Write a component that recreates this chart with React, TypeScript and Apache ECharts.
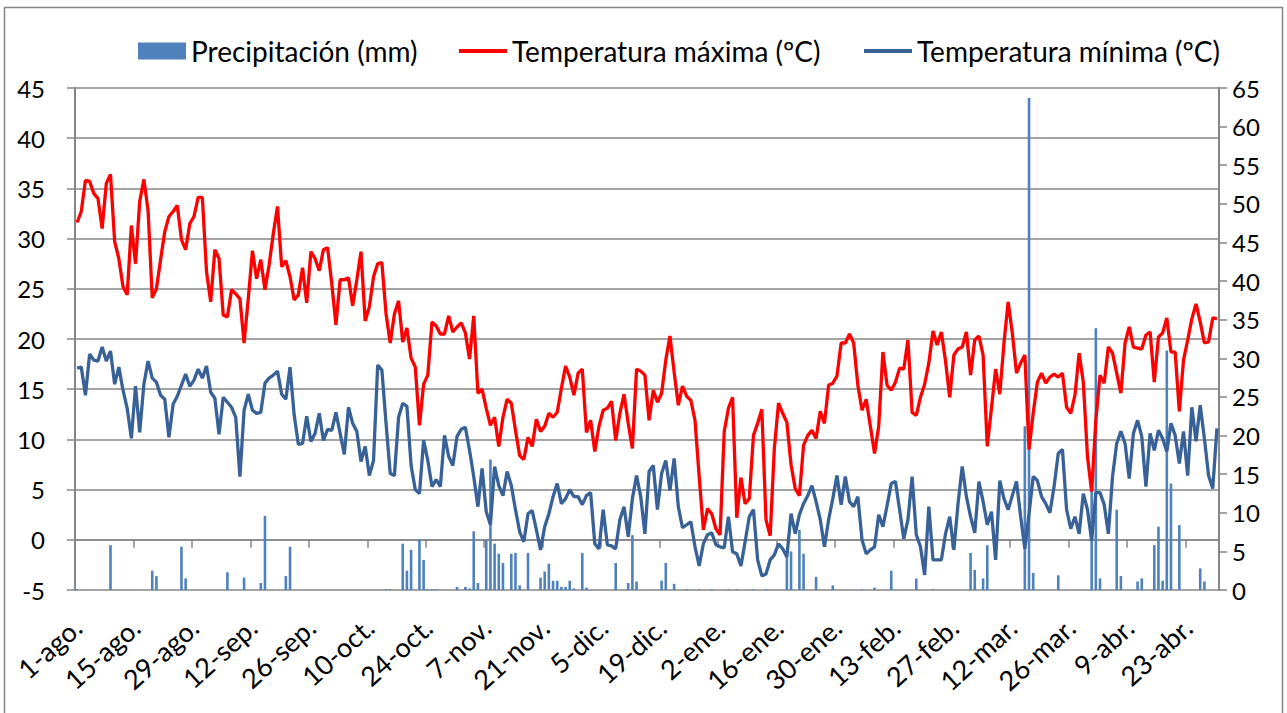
import React, { useEffect, useRef } from 'react';
import * as echarts from 'echarts';

// ---- categories (1-ago. .. 30-abr., leap year) ----
const monthNames = ['ago', 'sep', 'oct', 'nov', 'dic', 'ene', 'feb', 'mar', 'abr'];
const monthDays = [31, 30, 31, 30, 31, 31, 29, 31, 30];
const categories: string[] = [];
monthNames.forEach((m, mi) => {
  for (let d = 1; d <= monthDays[mi]; d++) categories.push(`${d}-${m}.`);
});

// ---- series ----
const precipitation = [
  0.1, 0, 0, 0, 0, 0, 0, 0, 5.8, 0,
  0, 0, 0, 0, 0, 0, 0, 0, 2.5, 1.8,
  0, 0, 0, 0, 0, 5.6, 1.5, 0, 0, 0,
  0, 0, 0, 0, 0, 0, 2.3, 0, 0, 0,
  1.6, 0, 0, 0, 0.9, 9.6, 0, 0, 0, 0,
  1.8, 5.6, 0, 0, 0, 0, 0, 0, 0, 0,
  0, 0, 0, 0, 0, 0, 0, 0, 0, 0,
  0, 0, 0, 0, 0.1, 0.1, 0, 0, 6.0, 2.5,
  5.2, 0, 6.5, 3.9, 0.1, 0.1, 0.1, 0, 0, 0,
  0, 0.4, 0, 0.4, 0.2, 7.6, 0.9, 0, 6.5, 16.9,
  6.0, 4.7, 3.5, 0, 4.7, 4.8, 0.6, 0, 4.8, 0,
  0, 1.6, 2.4, 3.4, 1.2, 1.2, 0.4, 0.4, 1.2, 0.2,
  0, 4.8, 0.3, 0, 0, 0, 0, 0, 0, 3.5,
  0, 0, 0.9, 7.1, 1.1, 0, 0, 0, 0, 0,
  1.2, 3.5, 0, 0.8, 0, 0, 0.1, 0, 0, 0.1,
  0, 0, 0.1, 0, 0, 0, 0.1, 0, 0.1, 0,
  0, 0, 0.1, 0, 0, 0.1, 0, 0, 0, 0,
  4.3, 5.0, 0, 7.8, 4.7, 0, 0, 1.7, 0, 0,
  0, 0.6, 0, 0, 0, 0, 0, 0, 0.1, 0,
  0, 0.3, 0, 0, 0, 2.5, 0, 0, 0, 0,
  0, 1.5, 0, 0, 0, 0.1, 0, 0, 0, 0,
  0, 0, 0, 0, 4.8, 2.6, 0, 1.5, 5.8, 0,
  0, 0, 0, 0, 0, 0, 0, 21.2, 63.7, 2.2,
  0, 0, 0, 0, 0, 1.9, 0, 0, 0, 0,
  0, 0, 0, 13.0, 33.9, 1.5, 0, 0, 0, 10.4,
  1.8, 0, 0, 0, 1.1, 1.5, 0, 0, 5.8, 8.2,
  1.2, 31.0, 13.8, 0, 8.4, 0, 0, 0, 0, 2.8,
  1.1, 0, 0, 0,
];

const tempMax = [
  31.6, 32.7, 35.8, 35.7, 34.5, 34.0, 31.0, 35.5, 36.4, 29.7,
  28.0, 25.2, 24.4, 31.3, 27.5, 33.7, 35.9, 32.8, 24.1, 25.0,
  27.9, 30.7, 32.2, 32.7, 33.3, 29.9, 28.9, 31.5, 32.2, 34.1,
  34.1, 26.7, 23.7, 28.9, 28.0, 22.4, 22.2, 24.9, 24.5, 24.0,
  19.6, 24.0, 28.8, 26.0, 27.9, 24.9, 27.4, 30.5, 33.2, 27.2,
  27.8, 26.2, 23.9, 24.4, 27.1, 23.6, 28.7, 28.0, 26.8, 28.9,
  29.1, 25.5, 21.4, 25.9, 25.9, 26.1, 23.3, 25.9, 28.7, 21.8,
  23.2, 26.2, 27.5, 27.6, 22.5, 19.6, 22.5, 23.8, 19.7, 21.1,
  18.1, 17.2, 11.4, 15.5, 16.4, 21.7, 21.3, 20.5, 20.5, 22.3,
  20.7, 21.2, 21.6, 20.6, 18.0, 22.3, 14.6, 15.0, 13.1, 11.4,
  12.2, 9.3, 12.2, 14.0, 13.6, 10.9, 8.4, 8.0, 10.2, 9.3,
  12.0, 10.8, 11.3, 12.6, 12.2, 12.7, 15.1, 17.3, 16.2, 14.4,
  16.6, 17.0, 10.7, 11.9, 8.8, 11.3, 12.9, 13.1, 13.8, 9.9,
  12.6, 14.5, 11.6, 9.1, 17.0, 16.8, 16.4, 11.9, 14.9, 13.7,
  14.6, 17.9, 20.3, 16.7, 13.4, 15.3, 14.3, 13.9, 11.9, 6.3,
  1.0, 3.1, 2.6, 1.1, 0.5, 10.8, 13.1, 14.2, 2.2, 6.2,
  3.6, 4.1, 10.4, 11.6, 13.0, 2.0, 0.4, 9.1, 13.6, 12.6,
  11.7, 7.5, 5.1, 4.4, 9.4, 10.4, 10.9, 10.1, 12.8, 11.6,
  15.4, 15.6, 16.3, 19.6, 19.6, 20.5, 19.6, 15.4, 12.9, 14.0,
  11.3, 8.6, 11.3, 18.7, 15.4, 14.9, 15.7, 17.1, 17.0, 19.9,
  12.7, 12.4, 14.2, 15.5, 17.6, 20.8, 19.4, 20.7, 17.8, 14.2,
  18.4, 19.0, 19.2, 20.7, 16.4, 19.9, 20.3, 18.4, 9.3, 13.1,
  17.0, 14.5, 19.6, 23.7, 20.6, 16.6, 17.6, 18.4, 9.0, 12.6,
  15.7, 16.6, 15.6, 16.2, 16.5, 16.2, 16.6, 13.2, 12.6, 14.4,
  18.6, 15.7, 8.3, 4.8, 11.9, 16.4, 15.6, 19.2, 18.6, 16.6,
  14.6, 19.6, 21.2, 19.2, 19.1, 19.0, 20.4, 20.7, 15.7, 20.2,
  20.6, 22.1, 18.7, 18.7, 12.8, 17.9, 19.9, 22.0, 23.5, 21.7,
  19.6, 19.7, 22.1, 22.0,
];

const tempMin = [
  17.1, 17.2, 14.4, 18.5, 17.9, 17.8, 19.2, 17.8, 18.8, 15.5,
  17.2, 14.9, 13.1, 10.1, 15.3, 10.7, 15.5, 17.8, 16.1, 15.7,
  14.4, 14.0, 10.2, 13.5, 14.3, 15.4, 16.5, 15.3, 15.9, 17.0,
  16.1, 17.3, 14.7, 14.1, 10.5, 14.2, 13.7, 13.2, 12.2, 6.3,
  12.9, 14.5, 12.9, 12.6, 12.7, 15.6, 16.1, 16.4, 16.8, 14.5,
  14.0, 17.2, 12.4, 9.5, 9.6, 12.3, 9.8, 10.6, 12.6, 9.9,
  11.0, 10.9, 12.7, 10.6, 8.5, 13.2, 11.6, 10.8, 7.8, 9.3,
  6.4, 7.9, 17.4, 16.9, 11.6, 6.6, 6.4, 12.2, 13.6, 13.3,
  7.4, 5.0, 4.6, 9.9, 7.9, 5.3, 6.0, 5.3, 10.4, 8.3,
  7.4, 10.3, 11.0, 11.2, 8.9, 6.3, 3.3, 7.1, 2.8, 1.5,
  7.3, 5.4, 4.4, 6.8, 5.4, 3.0, 0.8, -0.2, 2.6, 2.9,
  1.0, -1.0, 1.3, 2.6, 4.3, 5.6, 3.6, 4.1, 5.0, 4.3,
  4.3, 3.5, 4.4, 4.7, -0.4, -0.9, 3.0, -0.5, -0.6, -0.9,
  2.0, 3.3, 0.3, 4.1, 6.4, 4.3, 0.6, 6.8, 7.4, 3.0,
  6.6, 7.9, 4.9, 8.1, 3.3, 1.2, 1.5, 1.8, -0.7, -2.6,
  -0.4, 0.5, 0.7, -0.5, -0.7, -0.8, 2.3, -1.2, -1.4, -2.6,
  -0.2, 2.3, 3.0, -2.0, -3.6, -3.4, -2.0, -1.5, -0.4, -0.9,
  -1.7, 2.6, 0.6, 2.5, 3.6, 4.4, 5.4, 3.8, 2.0, -0.7,
  2.0, 4.1, 6.4, 3.5, 6.3, 3.8, 3.3, 4.3, 0.0, -1.4,
  -1.0, -0.7, 2.5, 1.3, 3.4, 5.6, 5.8, 3.0, 0.1, 2.0,
  6.3, 0.5, -0.7, -3.5, 3.3, -2.0, -2.0, -2.0, 0.6, 2.3,
  -1.0, 3.6, 7.3, 4.3, 2.3, 0.7, 5.8, 3.8, 1.5, 2.8,
  -2.0, 5.9, 4.1, 3.0, 4.4, 5.8, 2.3, -0.9, 2.6, 6.3,
  5.9, 4.3, 3.6, 2.7, 5.3, 8.6, 9.0, 3.0, 1.1, 2.3,
  0.6, 4.6, 3.0, -0.1, 4.7, 4.7, 3.5, 0.6, 6.3, 9.6,
  10.8, 9.6, 6.1, 10.6, 11.9, 10.3, 5.3, 10.6, 8.9, 10.9,
  10.1, 8.8, 11.6, 10.4, 7.6, 10.8, 6.4, 13.2, 9.8, 13.4,
  10.1, 6.4, 5.1, 11.1,
];

const seriesNames = ['Precipitación (mm)', 'Temperatura máxima (ºC)', 'Temperatura mínima (ºC)'];

const FONT = 'Lato';
const GRID = '#868686';
const BAR = '#4f81bd';
const RED = '#ff0000';
const BLUE = '#376197';
const LINE_ICON = 'path://M0 0H50V4H0Z';

function legendFor(name: string, left: number, icon: string) {
  return {
    left,
    top: 37,
    padding: 0,
    itemWidth: 48,
    itemHeight: 17,
    selectedMode: false,
    textStyle: { fontFamily: FONT, fontSize: 28, color: '#000' },
    data: [{ name, icon }],
  };
}

export default function App() {
  const ref = useRef<HTMLDivElement>(null);
  useEffect(() => {
    const chart = echarts.init(ref.current as HTMLDivElement, null, { renderer: 'svg' });
    chart.setOption({
      animation: false,
      backgroundColor: '#ffffff',
      textStyle: { fontFamily: FONT },
      grid: { left: 75, right: 68, top: 88, bottom: 123, containLabel: false },
      legend: [
        legendFor(seriesNames[0], 138, 'rect'),
        legendFor(seriesNames[1], 459, LINE_ICON),
        legendFor(seriesNames[2], 864, LINE_ICON),
      ],
      graphic: [
        {
          type: 'rect',
          shape: { x: 4.5, y: 7.5, width: 1278, height: 720 },
          style: { fill: 'none', stroke: GRID, lineWidth: 1.5 },
          silent: true,
        },
      ],
      xAxis: [
        {
          type: 'category',
          data: categories,
          boundaryGap: true,
          position: 'bottom',
          axisLine: { show: false, onZero: false },
          axisTick: { show: false },
          splitLine: { show: false },
          axisLabel: {
            interval: 13,
            rotate: 42,
            margin: 33,
            fontFamily: FONT,
            fontSize: 27,
            color: '#000',
          },
        },
        {
          type: 'category',
          data: categories,
          boundaryGap: true,
          position: 'bottom',
          axisLine: { show: true, onZero: true, onZeroAxisIndex: 0, lineStyle: { color: GRID, width: 1.5 } },
          axisTick: { show: true, interval: 13, length: 8, inside: false, lineStyle: { color: GRID, width: 1.5 } },
          axisLabel: { show: false },
          splitLine: { show: false },
        },
      ],
      yAxis: [
        {
          type: 'value',
          min: -5,
          max: 45,
          interval: 5,
          position: 'left',
          axisLine: { show: true, lineStyle: { color: GRID, width: 2 } },
          axisTick: { show: true, length: 8, lineStyle: { color: GRID, width: 1.5 } },
          axisLabel: { margin: 30, fontFamily: FONT, fontSize: 24, color: '#000' },
          splitLine: { show: true, lineStyle: { color: GRID, width: 1.5 } },
        },
        {
          type: 'value',
          min: 0,
          max: 65,
          interval: 5,
          position: 'right',
          axisLine: { show: true, lineStyle: { color: GRID, width: 2 } },
          axisTick: { show: true, length: 8, lineStyle: { color: GRID, width: 1.5 } },
          axisLabel: { margin: 13, fontFamily: FONT, fontSize: 24, color: '#000' },
          splitLine: { show: false },
        },
      ],
      series: [
        {
          name: seriesNames[0],
          type: 'bar',
          xAxisIndex: 0,
          yAxisIndex: 1,
          data: precipitation,
          barWidth: 2.6,
          itemStyle: { color: BAR },
        },
        {
          name: seriesNames[1],
          type: 'line',
          xAxisIndex: 0,
          yAxisIndex: 0,
          data: tempMax,
          symbol: 'none',
          showSymbol: false,
          itemStyle: { color: RED },
          lineStyle: { color: RED, width: 3.3 },
        },
        {
          name: seriesNames[2],
          type: 'line',
          xAxisIndex: 0,
          yAxisIndex: 0,
          data: tempMin,
          symbol: 'none',
          showSymbol: false,
          itemStyle: { color: BLUE },
          lineStyle: { color: BLUE, width: 3.3 },
        },
      ],
    });
    return () => chart.dispose();
  }, []);
  return (
    <div
      ref={ref}
      style={{ position: 'fixed', left: 0, top: 0, width: 1287, height: 713, background: '#fff' }}
    />
  );
}
